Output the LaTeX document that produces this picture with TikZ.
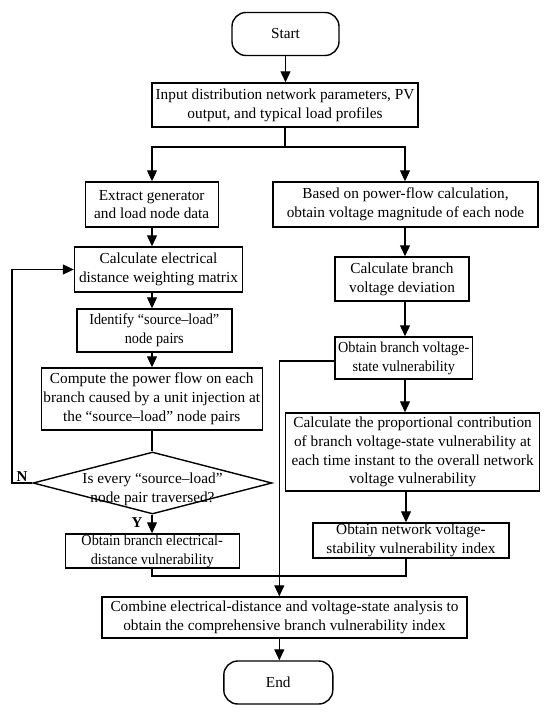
\documentclass[tikz,border=0pt]{standalone}
\usepackage{fontspec}
\setmainfont{Liberation Serif}
\newfontfamily\narrowserif{Liberation Serif}[Ligatures=TeX,FakeStretch=0.93]
\usetikzlibrary{arrows.meta,shapes.geometric}
\tikzset{
  txt/.style={font=\fontsize{15.3}{18.8}\selectfont},
  box/.style={draw, line width=1.4pt, rectangle, align=center, inner sep=0pt, txt},
  narrowbox/.style={box, font=\fontsize{15.3}{18.8}\selectfont\narrowserif},
  term/.style={box, rounded corners=14pt},
  conn/.style={line width=1.1pt},
  arr/.style={conn, -{Triangle[length=11pt,width=10pt]}},
  lbl/.style={font=\fontsize{15}{18}\selectfont\bfseries, inner sep=0pt}
}
\begin{document}
\begin{tikzpicture}[x=1pt,y=-1pt]
\useasboundingbox (0,0) rectangle (550,714);
\fill[white] (0,0) rectangle (550,714);
% column x
\coordinate (L) at (152,0);
\coordinate (R) at (405,0);
% nodes
\node[term, minimum width=107pt, minimum height=43pt] (start) at (285.5,34) {Start};
\node[box, minimum width=266pt, minimum height=44pt] (input) at (285,105) {Input distribution network parameters, PV\\output, and typical load profiles};
\node[box, minimum width=133pt, minimum height=45pt] (ext) at (151.7,204.5) {Extract generator\\and load node data};
\node[box, minimum width=265pt, minimum height=45pt] (pf) at (405.5,204.5) {Based on power-flow calculation,\\obtain voltage magnitude of each node};
\node[box, minimum width=168pt, minimum height=45pt] (calc) at (158.5,269.5) {Calculate electrical\\distance weighting matrix};
\node[narrowbox, minimum width=155pt, minimum height=43pt] (ident) at (154.3,330.5) {Identify “source–load”\\node pairs};
\node[box, minimum width=221pt, minimum height=62pt] (comp) at (151.7,399) {Compute the power flow on each\\branch caused by a unit injection at\\the “source–load” node pairs};
\node[diamond, draw, line width=1.4pt, minimum width=239pt, minimum height=62pt, aspect=3.85, inner sep=0pt] (dec) at (152.5,483) {};
\node[txt, align=center, inner sep=0pt] (dect) at (152.5,489) {Is every “source–load”\\node pair traversed?};
\node[narrowbox, minimum width=174pt, minimum height=34pt] (obe) at (152.2,551) {Obtain branch electrical-\\distance vulnerability};
\node[box, minimum width=134pt, minimum height=44pt] (dev) at (402,279) {Calculate branch\\voltage deviation};
\node[narrowbox, minimum width=137.5pt, minimum height=42pt] (obv) at (403.7,358) {Obtain branch voltage-\\state vulnerability};
\node[box, minimum width=254pt, minimum height=78pt] (prop) at (412.6,452) {Calculate the proportional contribution\\of branch voltage-state vulnerability at\\each time instant to the overall network\\voltage vulnerability};
\node[box, minimum width=196pt, minimum height=35pt] (net) at (411,540.5) {Obtain network voltage-\\stability vulnerability index};
\node[box, minimum width=365pt, minimum height=41pt] (comb) at (284.5,617.5) {Combine electrical-distance and voltage-state analysis to\\obtain the comprehensive branch vulnerability index};
\node[term, minimum width=109pt, minimum height=43pt] (end) at (278.3,682.5) {End};
\node[lbl] (nlab) at (22,477) {N};
\node[lbl] (ylab) at (137,523) {Y};
% helper coordinates
\coordinate (jn) at (285,147);
\coordinate (lp) at (12,483);
\coordinate (m1) at (152,576);
\coordinate (m2) at (406,576);
\coordinate (vx) at (279.3,361);
% connectors
\draw[arr] (start.south) -- (input.north -| start.south);
\draw[conn] (input.south) -- (jn);
\draw[arr] (jn) -| (ext.north -| L);
\draw[arr] (jn) -| (pf.north -| R);
\draw[arr] (ext.south -| L) -- (calc.north -| L);
\draw[arr] (calc.south -| L) -- (ident.north -| L);
\draw[arr] (ident.south -| L) -- (comp.north -| L);
\draw[conn] (comp.south -| L) -- (dec.north -| L);
\draw[arr] (dec.south -| L) -- (obe.north -| L);
\draw[arr] (dec.west) -- (lp) |- (calc.west);
\draw[conn] (obe.south -| m1) -- (m1) -- (m2) -- (net.south -| m2);
\draw[arr] (pf.south -| R) -- (dev.north -| R);
\draw[arr] (dev.south -| R) -- (obv.north -| R);
\draw[arr] (obv.south -| R) -- (prop.north -| R);
\draw[arr] (prop.south -| m2) -- (net.north -| m2);
\draw[arr] (obv.west |- vx) -- (vx) -- (comb.north -| vx);
\draw[arr] (comb.south -| vx) -- (end.north -| vx);
\end{tikzpicture}
\end{document}
